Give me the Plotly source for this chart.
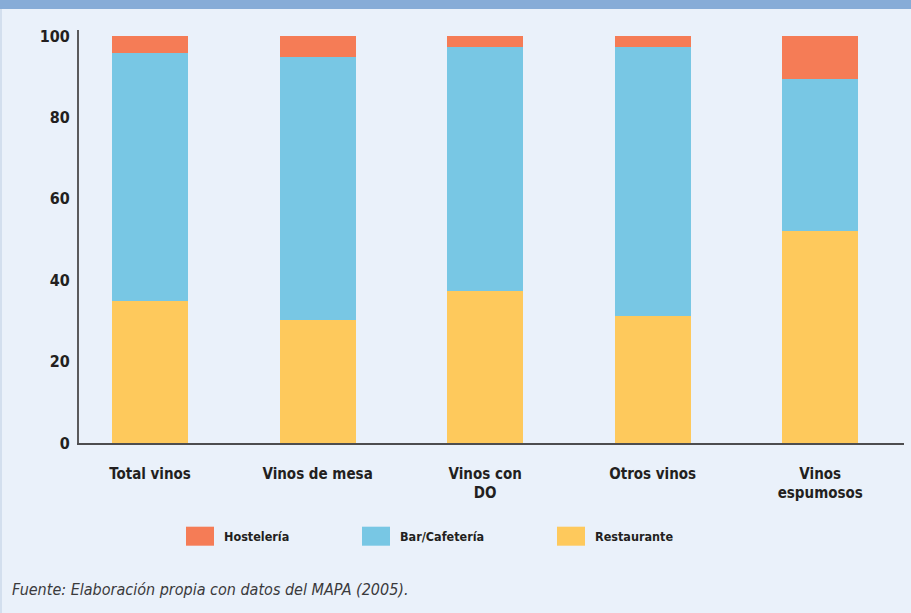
import plotly.graph_objects as go

# Distribución del consumo de vino por canal (%)
categorias = ["Total vinos", "Vinos de mesa", "Vinos con<br>DO", "Otros vinos", "Vinos<br>espumosos"]
restaurante = [34.8, 30.3, 37.4, 31.3, 52.1]
bar_cafeteria = [61.0, 64.5, 59.9, 66.0, 37.3]
hosteleria = [4.2, 5.2, 2.7, 2.7, 10.6]
y_ticks = [0, 20, 40, 60, 80, 100]

series = [
    ("Restaurante", restaurante, "#FEC95C"),
    ("Bar/Cafetería", bar_cafeteria, "#78C7E4"),
    ("Hostelería", hosteleria, "#F57C56"),
]

FONT = "DejaVu Sans Condensed, Liberation Sans Narrow, sans-serif"
TEXT = "#231F20"
BG = "#EAF1FA"

fig = go.Figure()
for name, vals, color in series:
    fig.add_trace(go.Bar(
        x=list(range(len(categorias))), y=vals, name=name,
        marker=dict(color=color, line=dict(width=0)),
        width=0.454, showlegend=False,
    ))

fig.update_layout(
    barmode="stack",
    width=911, height=613,
    margin=dict(l=79, r=7, t=30, b=170),
    paper_bgcolor=BG, plot_bgcolor=BG,
    font=dict(family=FONT, color=TEXT),
    xaxis=dict(
        range=[-0.424, 4.50],
        tickmode="array", tickvals=list(range(len(categorias))), ticktext=categorias,
        tickfont=dict(family=FONT, size=15, color=TEXT, weight="bold"),
        showgrid=False, zeroline=False, ticks="",
        showline=True, linecolor="#4D4D4F", linewidth=1.5,
        ticklabelstandoff=16,
    ),
    yaxis=dict(
        range=[0, 101.5],
        tickmode="array", tickvals=y_ticks,
        tickfont=dict(family=FONT, size=16, color=TEXT, weight="bold"),
        showgrid=False, zeroline=False, ticks="",
        showline=True, linecolor="#5A5A5C", linewidth=2,
        ticklabelstandoff=4,
    ),
)

# Banda superior y borde izquierdo del recuadro
fig.add_shape(type="rect", xref="paper", yref="paper",
              x0=-79/825, x1=1 + 7/825, y0=1 + 21/413, y1=1 + 30/413,
              fillcolor="#87ACD7", line=dict(width=0), layer="above")
fig.add_shape(type="rect", xref="paper", yref="paper",
              x0=-79/825, x1=-77/825, y0=-170/413, y1=1 + 21/413,
              fillcolor="#D3DFEE", line=dict(width=0), layer="above")

# Leyenda manual con rectángulos grandes
legend_items = [("Hostelería", "#F57C56"), ("Bar/Cafetería", "#78C7E4"), ("Restaurante", "#FEC95C")]
legend_x = [186, 362, 557]
for (name, color), px in zip(legend_items, legend_x):
    x0 = (px - 79) / 825
    fig.add_shape(type="rect", xref="paper", yref="paper",
                  x0=x0, x1=x0 + 28/825,
                  y0=(443.3 - 546) / 413, y1=(443.3 - 527) / 413,
                  fillcolor=color, line=dict(width=0))
    fig.add_annotation(xref="paper", yref="paper",
                       x=x0 + 36/825, y=(443.3 - 537) / 413,
                       text=name, showarrow=False, xanchor="left", yanchor="middle",
                       font=dict(family=FONT, size=12.5, color=TEXT, weight="bold"))

fig.add_annotation(xref="paper", yref="paper",
                   x=-69/825, y=(443.3 - 590) / 413,
                   text="<i>Fuente: Elaboración propia con datos del MAPA (2005).</i>",
                   showarrow=False, xanchor="left", yanchor="middle",
                   font=dict(family=FONT, size=16, color="#3A3A3C"))

fig.write_html("out.html")
